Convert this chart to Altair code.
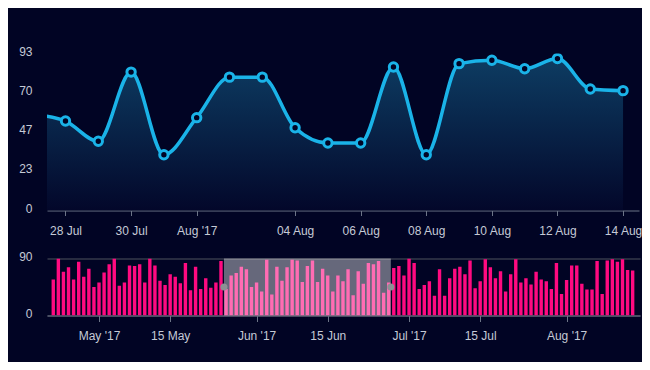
import json
import altair as alt
import pandas as pd

# ---------------- data ----------------
top_dates = [
    "2017-07-27", "2017-07-28", "2017-07-29", "2017-07-30", "2017-07-31",
    "2017-08-01", "2017-08-02", "2017-08-03", "2017-08-04", "2017-08-05",
    "2017-08-06", "2017-08-07", "2017-08-08", "2017-08-09", "2017-08-10",
    "2017-08-11", "2017-08-12", "2017-08-13", "2017-08-14",
]
top_values = [57, 53, 41, 82, 33, 55, 79, 79, 49, 40, 40, 85, 33, 87, 89, 84, 90, 72, 71]
top_tick_dates = ["2017-07-28", "2017-07-30", "2017-08-01", "2017-08-04", "2017-08-06",
                  "2017-08-08", "2017-08-10", "2017-08-12", "2017-08-14"]
top_tick_labels = ["28 Jul", "30 Jul", "Aug '17", "04 Aug", "06 Aug",
                   "08 Aug", "10 Aug", "12 Aug", "14 Aug"]
top_y_ticks = [0, 23.25, 46.5, 69.75, 93]
top_domain = ["2017-07-27T10:28", "2017-08-14T11:40"]

bar_first_day = "2017-04-22"
bar_values = [
    57, 90, 69, 76, 57, 85, 61, 74, 45, 52, 68, 81, 90, 47, 52, 79, 78, 81, 52, 90,
    79, 55, 48, 65, 61, 51, 83, 40, 77, 42, 59, 44, 52, 86, 42, 63, 67, 77, 73, 45,
    52, 38, 88, 33, 77, 55, 76, 88, 87, 53, 78, 87, 53, 74, 63, 38, 63, 54, 73, 32,
    70, 50, 83, 81, 86, 36, 52, 75, 78, 63, 90, 83, 42, 48, 54, 31, 73, 31, 59, 74,
    77, 65, 87, 43, 54, 89, 76, 59, 70, 38, 65, 89, 52, 59, 49, 69, 57, 54, 42, 83,
    34, 56, 79, 79, 50, 41, 41, 86, 34, 87, 89, 85, 89, 72, 71,
]
bottom_tick_dates = ["2017-05-01", "2017-05-15", "2017-06-01", "2017-06-15",
                     "2017-07-01", "2017-07-15", "2017-08-01"]
bottom_tick_labels = ["May '17", "15 May", "Jun '17", "15 Jun", "Jul '17", "15 Jul", "Aug '17"]
bottom_y_ticks = [0, 90]
bottom_domain = ["2017-04-21T18:00", "2017-08-14T11:00"]
brush_range = ["2017-05-25T14:00:00", "2017-06-27T10:00:00"]
brush_y = [0, 90]

# ---------------- helpers ----------------
BG = "#010424"
CYAN = "#1ab3e8"
PINK = "#ff0a80"
AXIS_C = "#6c7487"
LABEL_C = "#c5cad6"


def dt(s):
    t = pd.Timestamp(s)
    return alt.DateTime(year=t.year, month=t.month, date=t.day, hours=t.hour, minutes=t.minute)


def label_expr(dates, labels):
    expr = "''"
    for d, l in reversed(list(zip(dates, labels))):
        expr = f"timeFormat(datum.value, '%Y-%m-%d') == '{d}' ? {json.dumps(l)} : ({expr})"
    return expr


top_df = pd.DataFrame({"date": pd.to_datetime(top_dates), "value": top_values})
bar_df = pd.DataFrame({
    "date": pd.date_range(bar_first_day, periods=len(bar_values), freq="D"),
    "value": bar_values,
})
brush_df = pd.DataFrame({
    "start": [pd.Timestamp(brush_range[0])], "end": [pd.Timestamp(brush_range[1])],
    "y0": [brush_y[0]], "y1": [brush_y[1]],
})
handle_df = pd.DataFrame({
    "date": pd.to_datetime(brush_range),
    "y": [(brush_y[0] + brush_y[1]) / 2] * 2,
})

# ---------------- top chart ----------------
top_x = alt.X(
    "date:T",
    scale=alt.Scale(domain=[dt(top_domain[0]), dt(top_domain[1])]),
    axis=alt.Axis(
        values=[dt(d) for d in top_tick_dates],
        labelExpr=label_expr(top_tick_dates, top_tick_labels),
        title=None, grid=False, tickSize=5, labelPadding=10, labelAngle=0,
        domainColor=AXIS_C, tickColor=AXIS_C, labelOverlap=False, labelFlush=False,
    ),
)
top_y = alt.Y(
    "value:Q",
    scale=alt.Scale(domain=[0, 93], nice=False),
    axis=alt.Axis(
        values=top_y_ticks, format=".0f", title=None, grid=False, domain=False,
        ticks=False, tickSize=0, labelPadding=15, labelOffset=-2.5,
    ),
)
base = alt.Chart(top_df).encode(x=top_x, y=top_y)

gradient = alt.Gradient(
    gradient="linear",
    stops=[alt.GradientStop(color="#0d3c62", offset=0),
           alt.GradientStop(color="#03072a", offset=1)],
    x1=1, x2=1, y1=0, y2=1,
)
area = base.mark_area(interpolate="monotone", clip=True, color=gradient)
line = base.mark_line(interpolate="monotone", clip=True, color=CYAN, strokeWidth=3.5)
points = base.mark_point(
    shape="circle", filled=False, fill=BG, fillOpacity=1, stroke=CYAN,
    strokeWidth=3, size=70, opacity=1, clip=True,
)
top = alt.layer(area, line, points).properties(width=592, height=157)

# ---------------- bottom chart ----------------
bx_scale = alt.Scale(domain=[dt(bottom_domain[0]), dt(bottom_domain[1])])
by_scale = alt.Scale(domain=[0, 90], nice=False)
bottom_x = alt.X(
    "date:T", scale=bx_scale,
    axis=alt.Axis(
        values=[dt(d) for d in bottom_tick_dates],
        labelExpr=label_expr(bottom_tick_dates, bottom_tick_labels),
        title=None, grid=False, tickSize=6, labelPadding=9, labelAngle=0,
        domainColor=AXIS_C, tickColor=AXIS_C, labelOverlap=False, labelFlush=False,
    ),
)
bottom_y = alt.Y(
    "value:Q", scale=by_scale,
    axis=alt.Axis(
        values=bottom_y_ticks, format="d", title=None, grid=True, gridColor="#35384a",
        gridWidth=1.5, domain=False, ticks=False, tickSize=0, labelPadding=15,
        labelOffset=-2,
    ),
)
bars = alt.Chart(bar_df).mark_bar(size=3.4, color=PINK, clip=True).encode(x=bottom_x, y=bottom_y)
brush = alt.Chart(brush_df).mark_rect(fill="white", opacity=0.4).encode(
    x=alt.X("start:T", scale=bx_scale), x2="end:T",
    y=alt.Y("y0:Q", scale=by_scale), y2="y1:Q",
)
handles = alt.Chart(handle_df).mark_circle(color="#8d9094", size=50, opacity=1).encode(
    x=alt.X("date:T", scale=bx_scale), y=alt.Y("y:Q", scale=by_scale),
)
bottom = alt.layer(bars, brush, handles).properties(width=593, height=57)

chart = (
    alt.vconcat(top, bottom, spacing=14)
    .properties(
        background=BG,
        autosize=alt.AutoSizeParams(type="none"),
        padding={"left": 39, "top": 45.5, "right": 595, "bottom": 308.5},
    )
    .configure_view(stroke=None)
    .configure_axis(labelFont="Liberation Sans", labelFontSize=12, labelColor=LABEL_C)
)

chart.save("out.html", embed_options={"renderer": "svg", "actions": False})
